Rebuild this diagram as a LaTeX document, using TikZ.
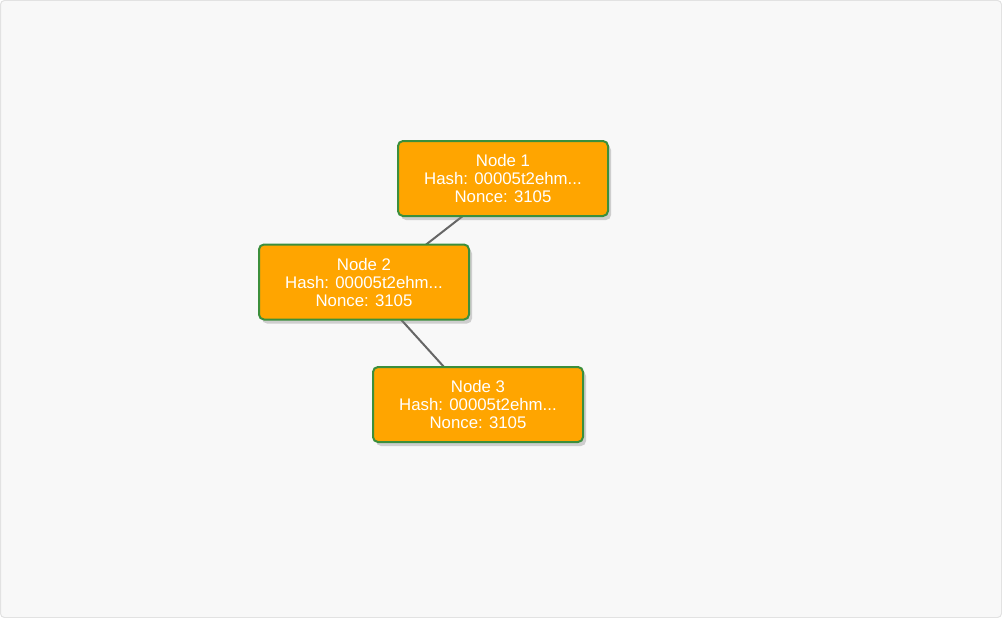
\documentclass[tikz,border=0pt]{standalone}
\usepackage{fontspec}
\setmainfont{Liberation Sans}
\usepackage{xcolor}
\usepackage{tikz}
\usetikzlibrary{backgrounds}
\usetikzlibrary{shadows}
\definecolor{blockfill}{HTML}{FFA500}
\definecolor{blockborder}{HTML}{3C8F3C}
\definecolor{linkgray}{HTML}{666666}
\definecolor{canvasbg}{HTML}{F8F8F8}
\definecolor{canvasline}{HTML}{E2E2E2}

\begin{document}
\begin{tikzpicture}[x=1pt, y=-1pt,
		block/.style={rectangle, rounded corners=5pt, draw=blockborder, line width=2pt, fill=blockfill,
			minimum width=210pt, minimum height=75pt, align=center, text=white, font=\fontsize{16.8}{18}\selectfont,
			drop shadow={opacity=0.35, shadow xshift=3pt, shadow yshift=-4pt}},
		link/.style={draw=linkgray, line width=2pt}]
				\useasboundingbox (0,0) rectangle (1002,618);
				\node[block] (n1) at (503,178.5) {Node 1\\Hash: 00005t2ehm...\\Nonce: 3105};
				\node[block] (n2) at (364,282) {Node 2\\Hash: 00005t2ehm...\\Nonce: 3105};
				\node[block] (n3) at (478,404.5) {Node 3\\Hash: 00005t2ehm...\\Nonce: 3105};
				\begin{scope}[on background layer]
					\draw[fill=canvasbg, draw=canvasline, line width=1pt, rounded corners=4pt] (0.5,0.5) rectangle (1001.5,617.5);
					\draw[link] ([xshift=8pt]n1.center) -- ([xshift=14pt]n2.center);
					\draw[link] ([xshift=3pt]n2.center) -- (n3.center);
				\end{scope}
		\end{tikzpicture}
\end{document}
